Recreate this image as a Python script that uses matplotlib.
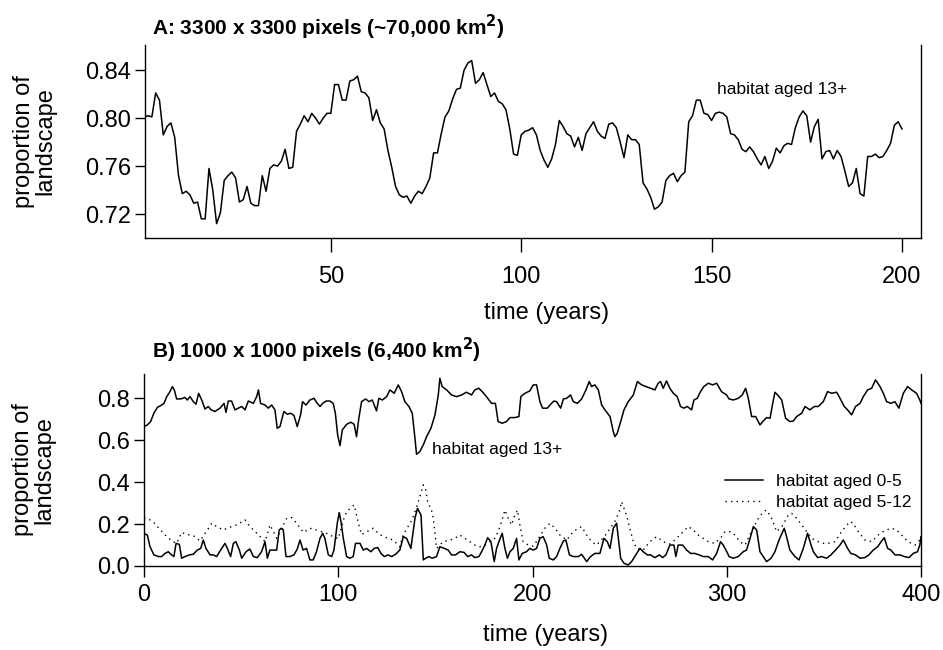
import numpy as np
import matplotlib
matplotlib.use("Agg")
import matplotlib.pyplot as plt

# panel A: habitat aged 13+, one value per year (1..200)
years_a = np.arange(1, 201)
old_a = [
    0.801, 0.802, 0.801, 0.821, 0.815, 0.786, 0.793, 0.796, 0.784, 0.752,
    0.737, 0.739, 0.736, 0.729, 0.730, 0.716, 0.716, 0.758, 0.740, 0.712,
    0.721, 0.748, 0.752, 0.755, 0.750, 0.730, 0.732, 0.743, 0.729, 0.727,
    0.727, 0.752, 0.739, 0.758, 0.761, 0.760, 0.764, 0.774, 0.758, 0.759,
    0.789, 0.795, 0.802, 0.797, 0.804, 0.800, 0.795, 0.800, 0.804, 0.804,
    0.828, 0.828, 0.815, 0.815, 0.831, 0.832, 0.835, 0.822, 0.821, 0.817,
    0.798, 0.807, 0.796, 0.791, 0.773, 0.759, 0.743, 0.736, 0.734, 0.735,
    0.729, 0.735, 0.739, 0.737, 0.743, 0.750, 0.771, 0.771, 0.787, 0.801,
    0.806, 0.816, 0.824, 0.825, 0.840, 0.846, 0.848, 0.829, 0.832, 0.838,
    0.828, 0.818, 0.821, 0.814, 0.812, 0.807, 0.791, 0.770, 0.769, 0.786,
    0.789, 0.790, 0.792, 0.786, 0.773, 0.765, 0.759, 0.766, 0.778, 0.798,
    0.793, 0.787, 0.785, 0.776, 0.784, 0.773, 0.787, 0.792, 0.797, 0.789,
    0.785, 0.783, 0.795, 0.796, 0.792, 0.780, 0.767, 0.786, 0.782, 0.782,
    0.778, 0.746, 0.741, 0.734, 0.724, 0.726, 0.730, 0.748, 0.752, 0.754,
    0.747, 0.752, 0.755, 0.797, 0.802, 0.815, 0.815, 0.804, 0.803, 0.798,
    0.804, 0.805, 0.804, 0.801, 0.787, 0.786, 0.782, 0.774, 0.772, 0.776,
    0.772, 0.766, 0.761, 0.768, 0.758, 0.764, 0.775, 0.771, 0.777, 0.779,
    0.778, 0.792, 0.801, 0.806, 0.802, 0.780, 0.793, 0.799, 0.766, 0.772,
    0.773, 0.766, 0.773, 0.768, 0.756, 0.743, 0.746, 0.758, 0.737, 0.735,
    0.768, 0.768, 0.770, 0.767, 0.768, 0.773, 0.779, 0.794, 0.797, 0.791,
]

# panel B: habitat aged 13+
old_t = [
    0, 1.7, 3.4, 5.1, 6.9, 8.6, 10.3, 11.7, 13.4, 14.6, 15.6, 16.8, 18.9, 21.1, 22.3,
    23.7, 25.4, 26.8, 28.1, 29.7, 31.4, 33.1, 34.5, 36.5, 39.1, 41.2, 42.2, 43.4, 45.1,
    46.8, 48.5, 50.3, 52.0, 53.7, 56.3, 58.0, 58.9, 60.0, 62.3, 64.0, 65.7, 67.4, 68.6,
    70.0, 72.0, 73.8, 75.5, 77.2, 78.9, 80.6, 81.6, 83.4, 85.4, 87.5, 89.2, 90.6, 92.0,
    93.7, 95.7, 97.4, 98.5, 99.7, 100.9, 102.1, 104.3, 106.5, 108.2, 109.4, 110.6, 112.0,
    114.1, 115.8, 117.5, 119.7, 120.9, 122.7, 124.9, 126.6, 128.8, 130.9, 132.6, 134.3,
    136.4, 138.1, 139.5, 140.3, 142.0, 143.8, 145.5, 147.7, 149.8, 151.5, 152.3, 153.5,
    155.8, 158.3, 160.9, 163.5, 166.0, 168.6, 170.3, 172.4, 174.1, 176.3, 178.9, 180.9,
    182.3, 184.4, 186.6, 188.4, 190.9, 193.0, 194.0, 196.1, 198.6, 200.4, 202.1, 203.8,
    205.2, 207.6, 209.8, 211.0, 212.4, 214.5, 215.9, 217.6, 219.6, 221.0, 223.1, 225.3,
    227.5, 229.2, 230.4, 232.1, 233.9, 235.6, 237.3, 239.9, 241.6, 242.4, 243.6, 245.4,
    247.1, 249.3, 251.9, 254.0, 256.2, 258.4, 260.8, 263.0, 264.7, 265.9, 267.3, 269.0,
    270.7, 272.5, 274.5, 276.2, 277.9, 279.7, 281.9, 283.1, 284.8, 286.5, 288.2, 290.5,
    292.7, 294.8, 297.3, 299.9, 301.2, 303.4, 305.9, 308.0, 309.7, 311.1, 312.8, 314.9,
    317.1, 318.8, 320.5, 322.3, 323.5, 324.8, 326.5, 328.3, 330.3, 332.5, 334.3, 336.0,
    338.6, 340.3, 342.8, 345.1, 347.1, 349.7, 351.9, 354.0, 356.6, 358.3, 360.5, 362.2,
    364.3, 366.3, 368.6, 370.3, 372.5, 374.6, 376.6, 378.9, 380.6, 382.3, 384.5, 386.6,
    388.6, 390.9, 393.1, 395.2, 397.7, 399.4, 400.0,
]
old_v = [
    0.665, 0.673, 0.689, 0.729, 0.757, 0.765, 0.776, 0.808, 0.832, 0.856, 0.840, 0.797, 0.797, 0.804, 0.792,
    0.808, 0.784, 0.772, 0.824, 0.792, 0.749, 0.761, 0.745, 0.737, 0.753, 0.776, 0.733, 0.787, 0.787,
    0.745, 0.753, 0.761, 0.745, 0.787, 0.776, 0.808, 0.840, 0.776, 0.768, 0.753, 0.768, 0.745, 0.657,
    0.665, 0.737, 0.724, 0.729, 0.718, 0.665, 0.721, 0.784, 0.768, 0.792, 0.800, 0.776, 0.761, 0.776,
    0.787, 0.787, 0.776, 0.729, 0.625, 0.574, 0.649, 0.676, 0.686, 0.676, 0.617, 0.705, 0.784,
    0.797, 0.784, 0.792, 0.740, 0.800, 0.792, 0.808, 0.840, 0.824, 0.864, 0.832, 0.784,
    0.761, 0.729, 0.609, 0.533, 0.546, 0.578, 0.617, 0.657, 0.721, 0.816, 0.896, 0.856,
    0.840, 0.816, 0.808, 0.816, 0.829, 0.816, 0.840, 0.848, 0.832, 0.808, 0.776, 0.776,
    0.689, 0.681, 0.689, 0.708, 0.708, 0.713, 0.808, 0.824, 0.835, 0.864, 0.864, 0.784,
    0.753, 0.753, 0.776, 0.787, 0.784, 0.753, 0.797, 0.800, 0.816, 0.784, 0.776, 0.797,
    0.840, 0.880, 0.856, 0.864, 0.840, 0.768, 0.745, 0.713, 0.641, 0.617, 0.633, 0.689,
    0.745, 0.784, 0.816, 0.880, 0.864, 0.856, 0.848, 0.840, 0.872, 0.880, 0.848, 0.883,
    0.848, 0.824, 0.808, 0.761, 0.753, 0.761, 0.745, 0.792, 0.800, 0.832, 0.856, 0.872,
    0.864, 0.872, 0.832, 0.816, 0.797, 0.792, 0.800, 0.816, 0.848, 0.800, 0.713, 0.713,
    0.673, 0.692, 0.708, 0.705, 0.768, 0.829, 0.813, 0.792, 0.705, 0.689, 0.692, 0.713,
    0.729, 0.761, 0.745, 0.761, 0.761, 0.784, 0.832, 0.824, 0.829, 0.800, 0.761, 0.745,
    0.721, 0.761, 0.776, 0.808, 0.840, 0.848, 0.888, 0.856, 0.824, 0.784, 0.776, 0.784,
    0.753, 0.824, 0.856, 0.840, 0.824, 0.792, 0.776,
]

# panel B: habitat aged 0-5
young_t = [
    0, 1.7, 3.1, 5.1, 7.4, 9.1, 10.8, 12.5, 14.2, 15.4, 16.5, 18.2, 19.4, 21.1, 23.3,
    25.4, 27.4, 29.2, 30.5, 31.9, 34.0, 35.7, 37.4, 40.0, 41.7, 42.9, 44.6, 46.0, 47.3,
    49.1, 50.3, 52.5, 54.5, 56.3, 58.3, 60.5, 62.3, 63.5, 64.8, 66.6, 68.3, 69.6, 70.8,
    71.7, 73.1, 75.1, 77.2, 78.9, 80.3, 81.9, 83.7, 85.4, 87.1, 88.8, 90.6, 92.0, 93.1,
    94.9, 96.6, 97.8, 99.5, 100.5, 101.4, 102.6, 104.3, 106.0, 107.7, 108.9, 111.2, 112.9,
    114.6, 116.8, 118.5, 120.3, 122.0, 123.7, 125.7, 127.5, 129.5, 131.7, 133.5, 135.2,
    137.4, 139.5, 140.8, 142.6, 143.8, 145.0, 146.7, 148.4, 150.6, 152.3, 154.6, 156.6,
    158.3, 160.4, 162.6, 164.8, 166.6, 168.6, 170.3, 172.4, 173.8, 175.5, 176.9, 178.6,
    180.3, 181.5, 182.7, 184.4, 185.8, 187.1, 188.4, 190.1, 191.8, 193.0, 194.7, 196.9,
    198.6, 200.4, 202.1, 203.8, 205.5, 207.3, 208.6, 210.7, 212.4, 214.1, 215.9, 217.2,
    219.0, 221.0, 223.6, 225.3, 227.9, 229.9, 232.1, 234.7, 236.8, 238.5, 239.9, 241.6,
    243.3, 244.2, 245.4, 247.1, 249.3, 251.0, 253.2, 255.3, 257.0, 259.1, 260.8, 263.0,
    265.3, 267.0, 268.7, 270.7, 272.8, 273.8, 275.0, 277.3, 279.3, 281.4, 283.6, 285.8,
    287.9, 290.5, 292.7, 294.8, 296.8, 298.2, 300.2, 301.2, 303.4, 305.9, 308.5, 310.2,
    312.0, 313.7, 315.4, 317.1, 318.8, 320.5, 322.8, 324.8, 326.9, 329.6, 330.8, 332.5,
    335.1, 337.2, 339.4, 341.6, 343.4, 344.6, 346.8, 348.8, 351.4, 353.6, 356.0, 358.3,
    360.0, 362.2, 363.9, 366.3, 368.6, 371.1, 373.2, 375.4, 377.7, 379.7, 381.1, 382.8,
    384.5, 386.6, 389.1, 391.4, 393.8, 396.0, 398.2, 399.4, 400.0,
]
young_v = [
    0.155, 0.148, 0.092, 0.053, 0.045, 0.045, 0.060, 0.068, 0.053, 0.045, 0.108, 0.103, 0.037, 0.045, 0.053,
    0.056, 0.076, 0.084, 0.124, 0.084, 0.053, 0.053, 0.045, 0.084, 0.108, 0.084, 0.045, 0.108, 0.116,
    0.076, 0.037, 0.068, 0.081, 0.045, 0.040, 0.068, 0.116, 0.037, 0.076, 0.076, 0.076, 0.172, 0.180,
    0.172, 0.045, 0.045, 0.053, 0.081, 0.124, 0.076, 0.084, 0.029, 0.029, 0.068, 0.132, 0.156, 0.132,
    0.053, 0.045, 0.076, 0.204, 0.255, 0.212, 0.132, 0.045, 0.037, 0.045, 0.108, 0.108, 0.076,
    0.084, 0.068, 0.084, 0.088, 0.060, 0.045, 0.053, 0.045, 0.056, 0.076, 0.140, 0.132,
    0.084, 0.228, 0.275, 0.243, 0.029, 0.037, 0.045, 0.037, 0.045, 0.092, 0.084, 0.076,
    0.053, 0.053, 0.068, 0.065, 0.045, 0.053, 0.040, 0.045, 0.068, 0.100, 0.135, 0.116,
    0.021, 0.084, 0.116, 0.156, 0.084, 0.037, 0.068, 0.084, 0.132, 0.029, 0.060, 0.068,
    0.084, 0.076, 0.084, 0.132, 0.140, 0.100, 0.037, 0.029, 0.045, 0.084, 0.119, 0.124,
    0.053, 0.045, 0.045, 0.056, 0.021, 0.045, 0.060, 0.060, 0.132, 0.116, 0.084, 0.180,
    0.204, 0.132, 0.037, 0.013, 0.005, 0.021, 0.053, 0.084, 0.068, 0.053, 0.053, 0.040,
    0.053, 0.040, 0.053, 0.100, 0.100, 0.045, 0.100, 0.100, 0.076, 0.060, 0.060, 0.053,
    0.045, 0.045, 0.029, 0.060, 0.116, 0.100, 0.065, 0.045, 0.037, 0.045, 0.068, 0.076,
    0.132, 0.188, 0.172, 0.068, 0.045, 0.021, 0.037, 0.068, 0.124, 0.180, 0.140, 0.076,
    0.045, 0.029, 0.084, 0.156, 0.100, 0.068, 0.040, 0.045, 0.037, 0.053, 0.076, 0.100,
    0.124, 0.084, 0.060, 0.053, 0.037, 0.040, 0.053, 0.076, 0.092, 0.119, 0.135, 0.084,
    0.076, 0.053, 0.053, 0.045, 0.040, 0.060, 0.068, 0.100, 0.140,
]

# panel B: habitat aged 5-12
mid_t = [
    0, 2.2, 4.8, 8.2, 11.7, 15.1, 16.8, 19.4, 22.0, 25.4, 28.8, 33.1, 34.8, 37.4, 40.8,
    45.1, 47.7, 52.0, 54.5, 58.8, 62.3, 64.9, 68.3, 73.5, 76.0, 78.6, 82.0, 85.4, 88.8,
    94.0, 97.4, 100.0, 103.4, 106.0, 108.2, 109.4, 110.6, 112.0, 115.0, 118.0, 120.6,
    123.2, 125.7, 128.3, 131.7, 133.5, 138.0, 141.0, 143.8, 145.0, 146.0, 148.0, 148.9,
    149.7, 150.6, 154.0, 157.5, 160.0, 162.6, 165.2, 167.8, 170.3, 172.9, 175.5, 178.1,
    180.6, 182.3, 184.1, 185.8, 187.5, 189.2, 190.9, 192.3, 193.5, 195.2, 197.8, 200.4,
    203.0, 206.4, 209.0, 211.6, 214.1, 217.6, 221.0, 223.6, 225.3, 227.9, 230.4, 233.0,
    237.0, 242.4, 244.7, 245.9, 247.1, 248.4, 250.1, 251.9, 253.6, 257.0, 260.4, 263.9,
    267.3, 270.7, 274.2, 277.6, 280.2, 282.8, 285.3, 287.9, 290.5, 293.9, 297.0, 299.1,
    301.7, 304.2, 306.8, 309.4, 313.0, 316.3, 318.8, 320.5, 323.1, 325.7, 328.5, 331.7,
    333.4, 336.0, 338.6, 341.1, 343.7, 347.1, 351.0, 355.7, 359.1, 363.4, 365.1, 367.7,
    371.1, 374.6, 378.0, 381.5, 384.9, 387.4, 390.0, 393.4, 396.9, 399.4, 400.0,
]
mid_v = [
    0.230, 0.225, 0.210, 0.175, 0.140, 0.116, 0.108, 0.160, 0.151, 0.145, 0.120, 0.178, 0.204, 0.188, 0.172,
    0.188, 0.196, 0.220, 0.188, 0.150, 0.116, 0.196, 0.132, 0.228, 0.231, 0.204, 0.160, 0.180, 0.172,
    0.156, 0.140, 0.130, 0.243, 0.275, 0.291, 0.243, 0.196, 0.150, 0.165, 0.180, 0.156,
    0.140, 0.132, 0.124, 0.092, 0.150, 0.220, 0.300, 0.387, 0.363, 0.307, 0.267, 0.228,
    0.164, 0.084, 0.116, 0.124, 0.132, 0.148, 0.132, 0.116, 0.100, 0.092, 0.100, 0.116,
    0.132, 0.164, 0.212, 0.267, 0.228, 0.196, 0.243, 0.267, 0.196, 0.116, 0.100, 0.095,
    0.130, 0.180, 0.204, 0.180, 0.148, 0.124, 0.164, 0.180, 0.188, 0.148, 0.116, 0.100,
    0.140, 0.212, 0.259, 0.307, 0.275, 0.243, 0.180, 0.116, 0.084, 0.076, 0.116, 0.140,
    0.116, 0.105, 0.132, 0.164, 0.188, 0.172, 0.148, 0.132, 0.116, 0.108, 0.135, 0.164,
    0.164, 0.148, 0.116, 0.100, 0.170, 0.228, 0.259, 0.267, 0.228, 0.164, 0.190, 0.243,
    0.251, 0.228, 0.196, 0.164, 0.132, 0.116, 0.105, 0.116, 0.164, 0.212, 0.204, 0.164,
    0.124, 0.116, 0.148, 0.170, 0.180, 0.172, 0.148, 0.116, 0.100, 0.124, 0.130,
]

plt.rcParams["font.family"] = ["Liberation Sans", "DejaVu Sans"]
FS = 17


def style_axes(ax):
    ax.spines["top"].set_visible(False)
    for side in ("left", "bottom", "right"):
        ax.spines[side].set_linewidth(1.0)
    ax.tick_params(axis="both", direction="out", length=7, width=1.0,
                   labelsize=FS, right=False, top=False)
    ax.tick_params(axis="y", pad=3)


def add_ylabel(ax):
    ax.set_ylabel("proportion of\nlandscape", fontsize=FS, linespacing=1.0)
    ax.yaxis.label.set_va("center")
    ax.yaxis.set_label_coords(-0.142, 0.5)


fig = plt.figure(figsize=(9.43, 6.5), dpi=100)

# --- panel A ---
ax1 = fig.add_axes([145 / 943, 1 - 238 / 650, 776 / 943, 193 / 650])
ax1.plot(years_a, old_a, color="black", lw=1.1)
ax1.set_xlim(1.2, 205)
ax1.set_ylim(0.700, 0.861)
ax1.set_xticks([50, 100, 150, 200])
ax1.set_yticks([0.72, 0.76, 0.80, 0.84])
ax1.set_yticklabels(["0.72", "0.76", "0.80", "0.84"])
style_axes(ax1)
ax1.tick_params(axis="x", length=10, pad=10)
ax1.set_xlabel("time (years)", fontsize=FS)
ax1.xaxis.set_label_coords(0.517, -0.33)
add_ylabel(ax1)
ax1.text(151.5, 0.824, "habitat aged 13+", fontsize=12.5, va="center", ha="left")
fig.text(152 / 943, 1 - 27 / 650, r"A: 3300 x 3300 pixels (~70,000 km$^\mathbf{2}$)",
         fontsize=15, fontweight="bold", va="center", ha="left")

# --- panel B ---
ax2 = fig.add_axes([144 / 943, 1 - 566 / 650, 777 / 943, 192 / 650])
ax2.plot(old_t, old_v, color="black", lw=1.1)
ax2.plot(young_t, young_v, color="black", lw=1.1, label="habitat aged 0-5")
ax2.plot(mid_t, mid_v, color="black", lw=1.0, linestyle=(0, (1, 3)),
         label="habitat aged 5-12")
ax2.set_xlim(0, 400)
ax2.set_ylim(0, 0.916)
ax2.set_xticks([0, 100, 200, 300, 400])
ax2.set_yticks([0.0, 0.2, 0.4, 0.6, 0.8])
ax2.set_yticklabels(["0.0", "0.2", "0.4", "0.6", "0.8"])
style_axes(ax2)
ax2.tick_params(axis="x", length=8, pad=5)
ax2.set_xlabel("time (years)", fontsize=FS)
ax2.xaxis.set_label_coords(0.517, -0.30)
add_ylabel(ax2)
ax2.text(148.1, 0.558, "habitat aged 13+", fontsize=12.5, va="center", ha="left")
ax2.legend(loc="upper left", bbox_to_anchor=(0.748, 0.478), frameon=False,
           fontsize=12.5, handlelength=2.2, handletextpad=0.7,
           labelspacing=0.3, borderpad=0, borderaxespad=0)
fig.text(152 / 943, 1 - 350 / 650, r"B) 1000 x 1000 pixels (6,400 km$^\mathbf{2}$)",
         fontsize=15, fontweight="bold", va="center", ha="left")

fig.savefig("out.png", dpi=100)
